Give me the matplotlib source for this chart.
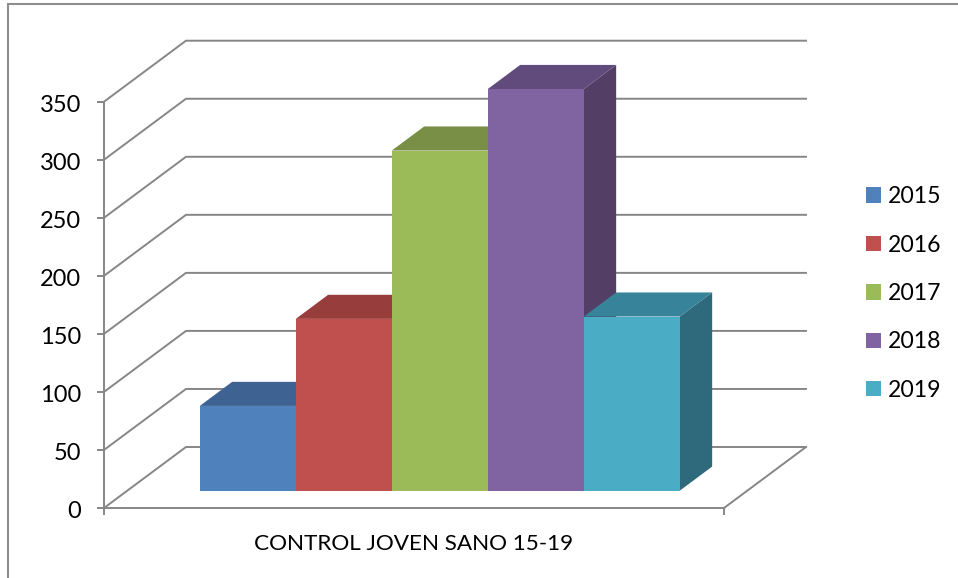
import matplotlib
matplotlib.use("Agg")
import matplotlib.pyplot as plt
from matplotlib.patches import Patch, Polygon, Rectangle
from matplotlib.transforms import ScaledTranslation

years = ["2015", "2016", "2017", "2018", "2019"]
values = [73, 148, 293, 346, 150]
category = "CONTROL JOVEN SANO 15-19"
y_ticks = [0, 50, 100, 150, 200, 250, 300, 350]

front_colors = ["#4F81BD", "#C0504D", "#9BBB59", "#8064A2", "#4BACC6"]
top_colors = ["#3E6392", "#973E3C", "#788F45", "#614B7D", "#37839A"]
side_colors = ["#30507A", "#7B3230", "#5F7237", "#533F66", "#2E6A7B"]

W, H = 958, 578
GRID = "#868686"

# depth of the floor as a shift in data units (82 px right, 61 px up)
DEPTH_X = 82 / 620
DEPTH_Y = 61 / (406.3 / 350)


def shear(x, y, depth):
    return x + depth * DEPTH_X, y + depth * DEPTH_Y


plt.rcParams["font.family"] = ["Lato", "DejaVu Sans"]
fig = plt.figure(figsize=(W / 100, H / 100), dpi=100)
ax = fig.add_axes([104 / W, 1 - 508 / H, 620 / W, 406.3 / H])
ax.set_xlim(-0.5, 0.5)
ax.set_ylim(0, 350)
ax.patch.set_alpha(0)

# gridlines run along the side wall and then across the back wall
for v in y_ticks:
    bx, by = shear(-0.5, v, 1)
    ex, ey = shear(0.5, v, 1)
    ax.plot([-0.5, bx, ex], [v, by, ey], color=GRID, lw=1.4, clip_on=False,
            solid_joinstyle="miter", zorder=1)
# right edge of the floor
ax.plot([0.5, shear(0.5, 0, 1)[0]], [0, shear(0.5, 0, 1)[1]], color=GRID, lw=1.4,
        clip_on=False, zorder=1)

# the bars stand side by side, set back from the front edge
bar_w = 96 / 620
d0 = 0.284
d1 = 0.679
x0 = -len(values) * bar_w / 2 + 0.004

for i, v in enumerate(values):
    left = x0 + i * bar_w
    right = left + bar_w
    z = 3 + i
    front = [shear(left, 0, d0), shear(right, 0, d0), shear(right, v, d0), shear(left, v, d0)]
    top = [shear(left, v, d0), shear(right, v, d0), shear(right, v, d1), shear(left, v, d1)]
    side = [shear(right, 0, d0), shear(right, 0, d1), shear(right, v, d1), shear(right, v, d0)]
    ax.add_patch(Polygon(side, fc=side_colors[i], ec="none", clip_on=False, zorder=z))
    ax.add_patch(Polygon(top, fc=top_colors[i], ec="none", clip_on=False, zorder=z))
    ax.add_patch(Polygon(front, fc=front_colors[i], ec="none", clip_on=False, zorder=z + 0.5))

for s in ["top", "right"]:
    ax.spines[s].set_visible(False)
for s in ["left", "bottom"]:
    ax.spines[s].set_color(GRID)
    ax.spines[s].set_linewidth(1.4)
    ax.spines[s].set_zorder(2)

ax.set_yticks(y_ticks)
ax.tick_params(axis="y", color=GRID, width=1.4, length=5, pad=11.5, labelsize=17,
               labelcolor="black")
# labels sit a little below their ticks
nudge = ScaledTranslation(0, -1.5 / 100, fig.dpi_scale_trans)
for label in ax.get_yticklabels():
    label.set_transform(label.get_transform() + nudge)

ax.set_xticks([0])
ax.set_xticklabels([category])
ax.tick_params(axis="x", length=0, pad=19, labelsize=16.2, labelcolor="black")
ax.set_xticks([-0.5, 0.5], minor=True)
ax.tick_params(axis="x", which="minor", color=GRID, width=1.4, length=5)

handles = [Patch(fc=c, ec="none") for c in front_colors]
ax.legend(handles, years, loc="center left", bbox_to_anchor=(866 / W, 1 - 293.5 / H),
          bbox_transform=fig.transFigure, frameon=False, fontsize=16.6,
          handlelength=0.65, handleheight=0.65, handletextpad=0.3, labelspacing=1.19,
          borderpad=0, borderaxespad=0)

# chart frame, cut off by the image edge on the right and bottom
fig.add_artist(Rectangle((7.5 / W, -0.1), 1.1, 1.1 - 4 / H, transform=fig.transFigure,
                         fc="none", ec="#8E8E8E", lw=1.5))

fig.savefig("out.png", dpi=100)
